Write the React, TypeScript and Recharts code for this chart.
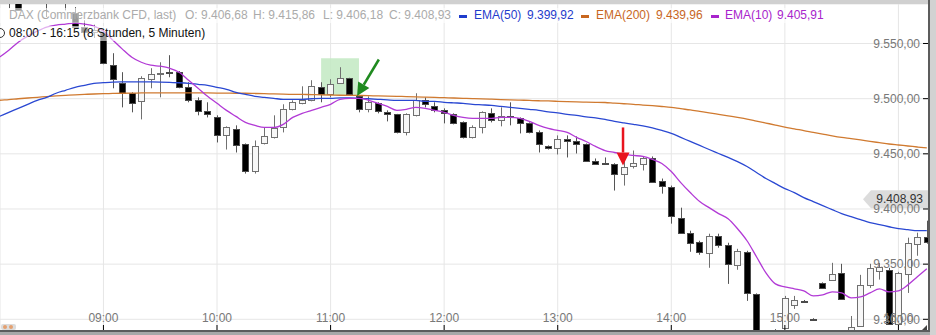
import React from "react";
import { Bar, CartesianGrid, ComposedChart, Line, ReferenceArea, ReferenceLine, XAxis, YAxis } from "recharts";

const FONT = '"Liberation Sans", Arial, sans-serif';

// 5-minute bars, index 0 = 08:00 ... 99 = 16:15
const opens = [
  9592, 9600, 9597, 9592, 9590, 9595, 9598, 9590, 9597, 9577.6,
  9565, 9560, 9559.4, 9530.3, 9513.9, 9504.9, 9497.6, 9517.6, 9522.5, 9524.5,
  9524.0, 9510.3, 9498.5, 9488.5, 9483.0, 9466.7, 9472.1, 9458.5, 9434.0, 9459.4,
  9464.9, 9473.9, 9490.3, 9495.8, 9498.5, 9510.3, 9503.9, 9513.9, 9518.5, 9502.1,
  9490.3, 9495.8, 9487.6, 9485.8, 9469.4, 9484.9, 9498.5, 9493.0, 9489.4, 9485.8,
  9478.5, 9464.9, 9473.9, 9486.7, 9480.3, 9484.0, 9482.1, 9477.6, 9469.4, 9456.7,
  9454.9, 9463.0, 9461.2, 9458.5, 9443.9, 9442.1, 9441.2, 9432.1, 9439.4, 9441.2,
  9445.8, 9425.8, 9420.3, 9392.1, 9378.5, 9370.3, 9360.3, 9375.8, 9367.6, 9349.4,
  9361.2, 9323.0, 9280.0, 9268.0, 9292.1, 9313.0, 9317.0, 9300.6, 9333.0, 9335.8,
  9342.1, 9290.3, 9294.0, 9331.2, 9344.0, 9344.9, 9295.8, 9341.2, 9368.5, 9374.9,
];
const highs = [
  9606, 9612, 9605, 9598, 9600, 9604, 9603, 9600, 9602, 9583,
  9571, 9567, 9562.1, 9541.2, 9524.0, 9505.8, 9520.3, 9527.6, 9533.0, 9539.4,
  9525.0, 9514.9, 9501.2, 9496.7, 9484.9, 9474.9, 9475.8, 9459.4, 9462.1, 9473.9,
  9484.9, 9494.9, 9498.5, 9511.2, 9516.7, 9514.9, 9517.6, 9528.5, 9518.9, 9503.0,
  9502.1, 9496.7, 9489.4, 9486.2, 9486.7, 9504.9, 9501.2, 9496.7, 9491.2, 9486.7,
  9479.4, 9475.8, 9488.5, 9491.2, 9492.1, 9496.7, 9483.0, 9478.5, 9471.2, 9457.6,
  9466.7, 9466.7, 9465.8, 9459.4, 9445.8, 9446.7, 9441.5, 9443.9, 9453.0, 9447.6,
  9447.6, 9427.6, 9421.2, 9401.2, 9380.3, 9371.2, 9377.6, 9377.6, 9369.4, 9363.9,
  9362.1, 9323.5, 9286.0, 9291.2, 9321.2, 9321.2, 9317.5, 9301.0, 9333.5, 9351.2,
  9350.3, 9303.0, 9340.3, 9350.3, 9351.0, 9346.7, 9343.0, 9374.0, 9378.5, 9389.4,
];
const lows = [
  9588, 9590, 9582, 9580, 9587, 9588, 9574, 9587, 9580, 9564,
  9556, 9555, 9531.2, 9509.4, 9492.1, 9487.6, 9481.2, 9509.4, 9501.2, 9519.4,
  9509.4, 9496.7, 9484.9, 9483.0, 9460.3, 9453.9, 9451.2, 9432.1, 9432.1, 9458.5,
  9463.9, 9469.4, 9489.4, 9494.9, 9497.6, 9496.7, 9501.2, 9513.9, 9503.0, 9487.6,
  9487.6, 9486.7, 9479.4, 9468.5, 9466.7, 9483.9, 9492.1, 9487.6, 9477.6, 9476.7,
  9463.9, 9463.9, 9468.5, 9478.5, 9474.9, 9475.8, 9468.5, 9468.5, 9451.2, 9453.9,
  9449.4, 9446.7, 9450.3, 9443.0, 9440.3, 9440.3, 9416.7, 9421.2, 9436.7, 9434.9,
  9424.0, 9413.9, 9386.7, 9377.6, 9361.2, 9358.5, 9346.7, 9364.9, 9332.1, 9344.9,
  9316.7, 9275.0, 9262.0, 9265.0, 9291.2, 9309.4, 9316.0, 9299.5, 9328.0, 9334.9,
  9318.0, 9289.4, 9293.5, 9328.5, 9336.0, 9294.9, 9294.0, 9323.9, 9357.6, 9368.5,
];
const closes = [
  9600, 9596, 9590, 9580.5, 9595, 9598, 9590, 9597, 9592, 9565,
  9560, 9562, 9532.1, 9517.6, 9504.9, 9495.8, 9518.5, 9522.1, 9523.5, 9523.5,
  9510.3, 9498.5, 9488.5, 9485.8, 9466.7, 9473.9, 9457.6, 9434.0, 9456.7, 9465.8,
  9473.0, 9490.3, 9496.7, 9498.5, 9511.2, 9503.9, 9513.0, 9518.5, 9503.9, 9490.3,
  9496.7, 9488.5, 9485.8, 9469.4, 9485.8, 9498.5, 9494.9, 9489.4, 9486.7, 9477.6,
  9464.9, 9473.9, 9487.6, 9480.3, 9483.9, 9483.0, 9477.6, 9469.4, 9458.5, 9454.9,
  9463.0, 9461.2, 9458.5, 9443.9, 9441.2, 9441.2, 9432.1, 9437.6, 9442.1, 9445.8,
  9424.9, 9421.2, 9393.9, 9378.5, 9369.4, 9361.2, 9375.8, 9367.6, 9350.3, 9362.1,
  9323.9, 9280.0, 9268.0, 9287.0, 9319.4, 9317.6, 9316.6, 9300.0, 9328.5, 9341.2,
  9318.5, 9293.1, 9331.2, 9346.7, 9347.0, 9295.8, 9342.1, 9369.4, 9374.9, 9370.3,
];
const ema10 = [
  9533.0, 9537.6, 9543.9, 9551.2, 9556.7, 9561.2, 9564.9, 9566.7, 9567.6, 9568.5,
  9567.6, 9565.8, 9561.2, 9553.0, 9544.9, 9537.6, 9533.0, 9530.3, 9529.4, 9527.6,
  9524.0, 9516.7, 9509.4, 9502.1, 9495.8, 9489.4, 9483.9, 9478.5, 9475.8, 9473.9,
  9473.9, 9476.7, 9483.0, 9486.7, 9489.4, 9492.1, 9494.9, 9499.4, 9500.3, 9500.3,
  9498.5, 9495.8, 9493.0, 9489.4, 9490.3, 9492.1, 9491.2, 9489.4, 9487.6, 9484.9,
  9483.0, 9482.1, 9482.1, 9482.1, 9483.0, 9483.0, 9482.1, 9479.4, 9475.8, 9473.0,
  9471.2, 9469.4, 9464.9, 9461.2, 9456.7, 9453.0, 9451.2, 9449.4, 9448.5, 9447.6,
  9444.9, 9441.2, 9433.9, 9423.9, 9414.9, 9406.7, 9401.2, 9395.8, 9391.2, 9382.1,
  9371.2, 9356.7, 9342.1, 9332.1, 9329.4, 9327.6, 9325.8, 9321.2, 9322.1, 9324.9,
  9323.9, 9319.4, 9320.3, 9323.9, 9327.6, 9324.9, 9325.8, 9331.2, 9338.5, 9345.8,
];
const ema50 = [
  9480.3, 9483.9, 9487.6, 9491.2, 9494.9, 9498.5, 9501.2, 9504.9, 9507.6, 9510.3,
  9512.1, 9513.9, 9514.5, 9515.0, 9515.2, 9515.3, 9515.3, 9515.2, 9515.0, 9514.7,
  9514.4, 9513.9, 9513.0, 9512.1, 9510.3, 9508.5, 9505.8, 9503.9, 9502.1, 9501.2,
  9500.3, 9499.4, 9499.4, 9499.4, 9499.9, 9500.3, 9500.3, 9500.8, 9500.8, 9500.3,
  9499.9, 9499.4, 9498.9, 9498.5, 9498.5, 9498.5, 9497.6, 9497.6, 9496.7, 9496.2,
  9495.8, 9494.9, 9494.4, 9493.9, 9493.0, 9492.1, 9491.2, 9490.3, 9489.4, 9488.0,
  9487.1, 9485.8, 9484.9, 9483.5, 9482.6, 9481.2, 9479.4, 9478.0, 9476.7, 9475.3,
  9473.5, 9471.2, 9468.5, 9464.9, 9461.2, 9457.6, 9453.9, 9450.3, 9446.7, 9443.0,
  9438.5, 9433.0, 9427.6, 9423.0, 9418.5, 9414.9, 9410.3, 9406.7, 9403.0, 9399.4,
  9395.8, 9393.0, 9390.3, 9387.6, 9385.8, 9383.9, 9382.1, 9381.2, 9380.3, 9380.3,
];
const ema200 = [
  9497.6, 9498.5, 9499.1, 9499.9, 9500.6, 9501.2, 9501.9, 9502.5, 9503.0, 9503.5,
  9503.9, 9504.2, 9504.5, 9504.7, 9504.9, 9505.0, 9505.2, 9505.3, 9505.3, 9505.3,
  9505.3, 9505.3, 9505.3, 9505.2, 9505.1, 9505.0, 9504.9, 9504.9, 9504.7, 9504.5,
  9504.3, 9504.1, 9503.9, 9503.8, 9503.7, 9503.5, 9503.3, 9503.1, 9503.0, 9502.9,
  9502.7, 9502.5, 9502.3, 9502.1, 9501.9, 9501.7, 9501.4, 9501.1, 9500.9, 9500.6,
  9500.3, 9500.0, 9499.8, 9499.5, 9499.2, 9498.9, 9498.7, 9498.4, 9498.1, 9497.9,
  9497.6, 9497.3, 9497.0, 9496.8, 9496.7, 9496.5, 9495.9, 9495.4, 9494.9, 9494.2,
  9493.6, 9492.9, 9492.1, 9490.9, 9489.8, 9488.5, 9487.2, 9485.8, 9484.4, 9483.0,
  9481.5, 9479.7, 9477.9, 9476.1, 9474.2, 9472.7, 9471.0, 9469.5, 9467.9, 9466.3,
  9464.9, 9463.8, 9462.6, 9461.3, 9460.1, 9458.9, 9458.0, 9457.1, 9456.2, 9455.3,
];

const hourTicks = [12, 24, 36, 48, 60, 72, 84, 96];
const hourLabels = ["09:00", "10:00", "11:00", "12:00", "13:00", "14:00", "15:00", "16:00"];
const priceTicks = [9300, 9350, 9400, 9450, 9500, 9550];
const lastPrice = 9408.93;

// annotations (bar index / price)
const highlight = { x1: 35, x2: 39, y1: 9503, y2: 9536.7 };
const greenArrow = [{ x: 41.1, y: 9535.5 }, { x: 38.8, y: 9502.5 }];
const redArrow = [{ x: 66.9, y: 9473.9 }, { x: 66.9, y: 9439.4 }];

const rows = opens.map((o, i) => ({
  k: i, o, h: highs[i], l: lows[i], c: closes[i],
  ema10: ema10[i], ema50: ema50[i], ema200: ema200[i],
}));

const fmtDe = (v: number) => {
  const [i, d] = v.toFixed(2).split(".");
  return i.replace(/\B(?=(\d{3})+(?!\d))/g, ".") + "," + d;
};

function Candle(props: any) {
  const { x, y, width, height, payload } = props;
  if (x == null || payload == null) return null;
  const { o, h, l, c } = payload;
  const span = h - l || 1;
  const at = (v: number) => y + ((h - v) / span) * height;
  const cx = Math.round(x + width / 2) + 0.5;
  const up = c > o;
  const top = Math.round(at(Math.max(o, c))) + 0.5;
  const bot = Math.max(Math.round(at(Math.min(o, c))) + 0.5, top + 1);
  return (
    <g>
      <line x1={cx} x2={cx} y1={y} y2={y + height} stroke={up ? "#707070" : "#555"} />
      <rect x={cx - 3} y={top} width={6} height={bot - top} fill={up ? "#f7f7f7" : "#000"} stroke={up ? "#707070" : "#4a4a4a"} />
    </g>
  );
}

function Arrow(props: any) {
  const { x1, y1, x2, y2, stroke } = props;
  const dx = x2 - x1, dy = y2 - y1;
  const len = Math.hypot(dx, dy) || 1;
  const ux = dx / len, uy = dy / len;
  const head = 13, half = 6.5;
  const bx = x2 - ux * head, by = y2 - uy * head;
  return (
    <g>
      <line x1={x1} y1={y1} x2={bx} y2={by} stroke={stroke} strokeWidth={2.5} />
      <polygon points={`${x2},${y2} ${bx - uy * half},${by + ux * half} ${bx + uy * half},${by - ux * half}`} fill={stroke} />
    </g>
  );
}

function PriceTag(props: any) {
  const vb = props.viewBox;
  if (!vb) return null;
  const r = vb.x + vb.width - 1;
  const y = vb.y;
  return (
    <g>
      <polygon points={`${r - 65},${y} ${r - 57},${y - 9} ${r},${y - 9} ${r},${y + 9} ${r - 57},${y + 9}`} fill="#dcdcdc" />
      <text x={r - 5} y={y} textAnchor="end" dominantBaseline="central" fontSize={12} fontFamily={FONT} fill="#333">
        {fmtDe(lastPrice)}
      </text>
    </g>
  );
}

const tickStyle = { fontSize: 12, fill: "#787878", fontFamily: FONT };

const abs = (s: React.CSSProperties): React.CSSProperties => ({ position: "absolute", ...s });

export default function App() {
  return (
    <div style={{ position: "absolute", left: 0, top: 0, width: 936, height: 335, background: "#fff", overflow: "hidden", fontFamily: FONT }}>
      <ComposedChart width={936} height={335} data={rows} margin={{ top: 4, right: 7, bottom: 4, left: 0 }}>
        <CartesianGrid stroke="#e6e6e6" />
        <XAxis
          dataKey="k"
          type="number"
          domain={[1.07, 99.23]}
          allowDataOverflow
          ticks={hourTicks}
          interval={0}
          tickFormatter={(k: number) => hourLabels[hourTicks.indexOf(k)] ?? ""}
          mirror
          height={1}
          axisLine={false}
          tickSize={6}
          tickMargin={3}
          tickLine={{ stroke: "#000" }}
          tick={tickStyle}
        />
        <YAxis
          orientation="right"
          mirror
          width={1}
          domain={[9289.4, 9585.8]}
          allowDataOverflow
          ticks={priceTicks}
          interval={0}
          tickFormatter={fmtDe}
          axisLine={false}
          tickSize={6}
          tickMargin={3}
          tickLine={{ stroke: "#000" }}
          tick={tickStyle}
        />
        <ReferenceArea {...highlight} fill="#c2e9c2" fillOpacity={0.85} stroke="none" />
        <Line type="monotone" dataKey="ema200" stroke="#d07a30" strokeWidth={1.3} dot={false} activeDot={false} isAnimationActive={false} />
        <Line type="monotone" dataKey="ema50" stroke="#2a48d2" strokeWidth={1.3} dot={false} activeDot={false} isAnimationActive={false} />
        <Line type="monotone" dataKey="ema10" stroke="#b23ad6" strokeWidth={1.3} dot={false} activeDot={false} isAnimationActive={false} />
        <Bar dataKey={(d: any) => [d.l, d.h]} barSize={7} shape={Candle} isAnimationActive={false} />
        <ReferenceLine segment={greenArrow} stroke="#1f8a1f" shape={Arrow} />
        <ReferenceLine segment={redArrow} stroke="#e8141e" shape={Arrow} />
        <ReferenceLine y={lastPrice} stroke="transparent" label={(p: any) => <PriceTag {...p} />} />
      </ComposedChart>

      {/* header legend */}
      <div style={abs({ left: 0, top: 8, width: 830, height: 15, background: "rgba(255,255,255,0.6)" })} />
      <div style={abs({ left: 0, top: 26, width: 210, height: 15, background: "rgba(255,255,255,0.6)" })} />
      <div style={{ ...abs({ left: 0, top: 8 }), fontSize: 12, lineHeight: "15px", whiteSpace: "nowrap" }}>
        <span style={abs({ left: 9, color: "#ababab" })}>DAX (Commerzbank CFD, last)</span>
        <span style={abs({ left: 185, color: "#ababab" })}>O: 9.406,68</span>
        <span style={abs({ left: 253, color: "#ababab" })}>H: 9.415,86</span>
        <span style={abs({ left: 323, color: "#ababab" })}>L: 9.406,18</span>
        <span style={abs({ left: 389, color: "#ababab" })}>C: 9.408,93</span>
        <span style={abs({ left: 459, top: 7, width: 8, height: 3, background: "#1f3ccc" })} />
        <span style={abs({ left: 474, color: "#1f3ccc" })}>EMA(50)</span>
        <span style={abs({ left: 527, color: "#1f3ccc" })}>9.399,92</span>
        <span style={abs({ left: 581, top: 7, width: 8, height: 3, background: "#c8661e" })} />
        <span style={abs({ left: 596, color: "#c8661e" })}>EMA(200)</span>
        <span style={abs({ left: 656, color: "#c8661e" })}>9.439,96</span>
        <span style={abs({ left: 711, top: 7, width: 8, height: 3, background: "#a824cc" })} />
        <span style={abs({ left: 725, color: "#a824cc" })}>EMA(10)</span>
        <span style={abs({ left: 777, color: "#a824cc" })}>9.405,91</span>
      </div>
      <div style={{ ...abs({ left: 9, top: 26 }), fontSize: 12, lineHeight: "15px", color: "#111", whiteSpace: "nowrap" }}>
        08:00 - 16:15 (8 Stunden, 5 Minuten)
      </div>
      <div style={abs({ left: -5, top: 28, width: 8, height: 8, border: "1px solid #333", borderRadius: "50%" })} />

      {/* window frame */}
      <div style={abs({ left: 0, top: 0, width: 936, height: 4, background: "#d0d0d0" })} />
      <div style={abs({ left: 0, top: 330, width: 930, height: 2, background: "#5c5c5c" })} />
      <div style={abs({ left: 0, top: 332, width: 936, height: 3, background: "#a8a8a8" })} />
      <div style={abs({ left: 928, top: 0, width: 2, height: 332, background: "#5c5c5c" })} />
      <div style={abs({ left: 930, top: 0, width: 6, height: 335, background: "#d2d2d2" })} />
      <div style={abs({ left: 1, top: 324, width: 15, height: 6, background: "#dcdcdc", borderRadius: 2 })} />
      <div style={abs({ left: 3, top: 325, width: 4, height: 4, background: "#e3a070", borderRadius: "50%" })} />
      <div style={abs({ left: 9, top: 325, width: 4, height: 4, background: "#e3a070", borderRadius: "50%" })} />
      <div style={abs({ left: 922, top: 325, width: 0, height: 0, borderLeft: "5px solid transparent", borderBottom: "5px solid #444" })} />
    </div>
  );
}
